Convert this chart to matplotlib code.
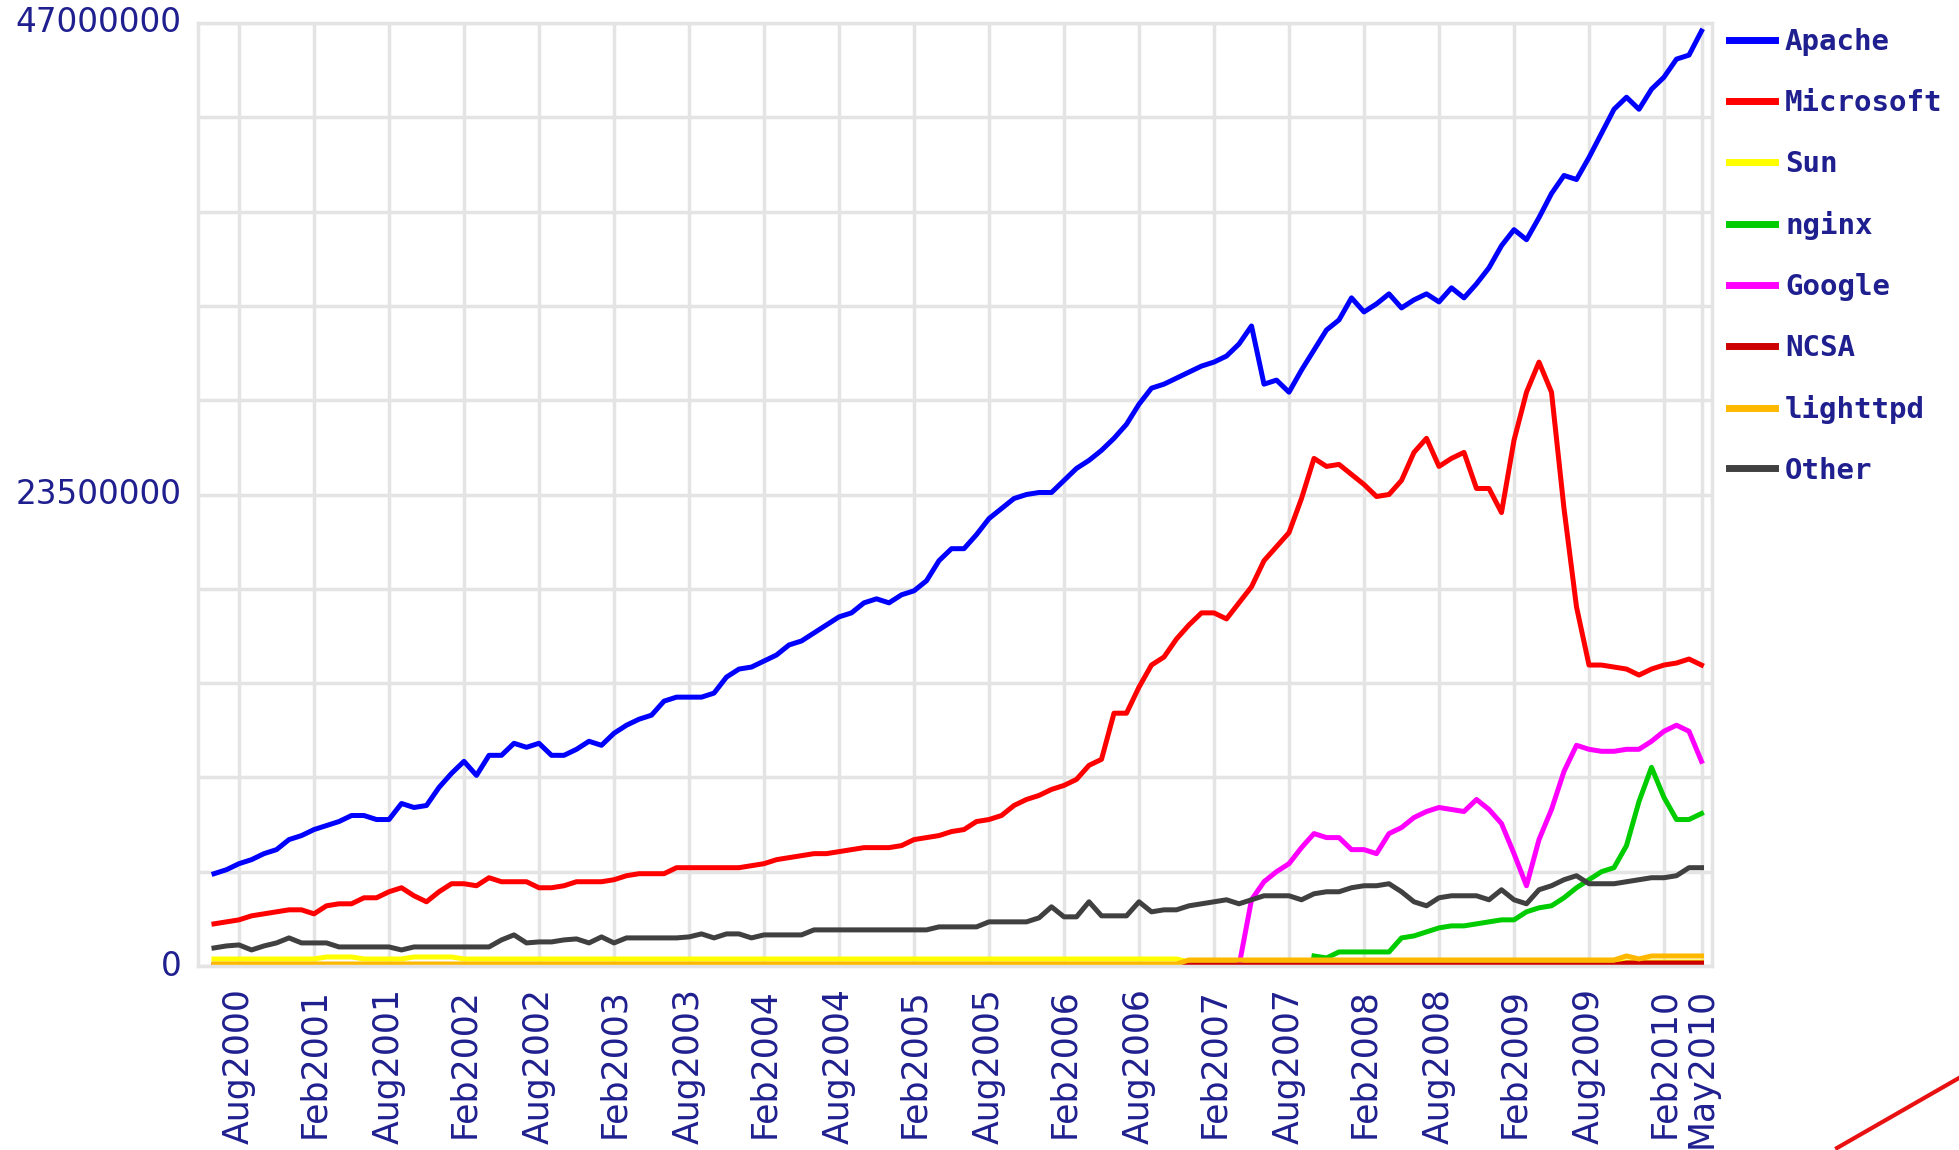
import numpy as np
import matplotlib
matplotlib.use("Agg")
import matplotlib.pyplot as plt
from matplotlib.lines import Line2D

nan = np.nan

# monthly server counts (millions), Jun2000 .. May2010, one row per 12 months
apache = [
    4.6, 4.8, 5.1, 5.3, 5.6, 5.8, 6.3, 6.5, 6.8, 7.0, 7.2, 7.5,
    7.5, 7.3, 7.3, 8.1, 7.9, 8.0, 8.9, 9.6, 10.2, 9.5, 10.5, 10.5,
    11.1, 10.9, 11.1, 10.5, 10.5, 10.8, 11.2, 11.0, 11.6, 12.0, 12.3, 12.5,
    13.2, 13.4, 13.4, 13.4, 13.6, 14.4, 14.8, 14.9, 15.2, 15.5, 16.0, 16.2,
    16.6, 17.0, 17.4, 17.6, 18.1, 18.3, 18.1, 18.5, 18.7, 19.2, 20.2, 20.8,
    20.8, 21.5, 22.3, 22.8, 23.3, 23.5, 23.6, 23.6, 24.2, 24.8, 25.2, 25.7,
    26.3, 27.0, 28.0, 28.8, 29.0, 29.3, 29.6, 29.9, 30.1, 30.4, 31.0, 31.9,
    29.0, 29.2, 28.6, 29.7, 30.7, 31.7, 32.2, 33.3, 32.6, 33.0, 33.5, 32.8,
    33.2, 33.5, 33.1, 33.8, 33.3, 34.0, 34.8, 35.9, 36.7, 36.2, 37.3, 38.5,
    39.4, 39.2, 40.3, 41.5, 42.7, 43.3, 42.7, 43.7, 44.3, 45.2, 45.4, 46.6,
]
microsoft = [
    2.1, 2.2, 2.3, 2.5, 2.6, 2.7, 2.8, 2.8, 2.6, 3.0, 3.1, 3.1,
    3.4, 3.4, 3.7, 3.9, 3.5, 3.2, 3.7, 4.1, 4.1, 4.0, 4.4, 4.2,
    4.2, 4.2, 3.9, 3.9, 4.0, 4.2, 4.2, 4.2, 4.3, 4.5, 4.6, 4.6,
    4.6, 4.9, 4.9, 4.9, 4.9, 4.9, 4.9, 5.0, 5.1, 5.3, 5.4, 5.5,
    5.6, 5.6, 5.7, 5.8, 5.9, 5.9, 5.9, 6.0, 6.3, 6.4, 6.5, 6.7,
    6.8, 7.2, 7.3, 7.5, 8.0, 8.3, 8.5, 8.8, 9.0, 9.3, 10.0, 10.3,
    12.6, 12.6, 13.9, 15.0, 15.4, 16.3, 17.0, 17.6, 17.6, 17.3, 18.1, 18.9,
    20.2, 20.9, 21.6, 23.3, 25.3, 24.9, 25.0, 24.5, 24.0, 23.4, 23.5, 24.2,
    25.6, 26.3, 24.9, 25.3, 25.6, 23.8, 23.8, 22.6, 26.2, 28.6, 30.1, 28.6,
    22.8, 17.9, 15.0, 15.0, 14.9, 14.8, 14.5, 14.8, 15.0, 15.1, 15.3, 15.0,
]
sun = [
    0.35, 0.35, 0.35, 0.35, 0.35, 0.35, 0.35, 0.35, 0.35, 0.45, 0.45, 0.45,
    0.35, 0.35, 0.35, 0.35, 0.45, 0.45, 0.45, 0.45, 0.35, 0.35, 0.35, 0.35,
    0.35, 0.35, 0.35, 0.35, 0.35, 0.35, 0.35, 0.35, 0.35, 0.35, 0.35, 0.35,
    0.35, 0.35, 0.35, 0.35, 0.35, 0.35, 0.35, 0.35, 0.35, 0.35, 0.35, 0.35,
    0.35, 0.35, 0.35, 0.35, 0.35, 0.35, 0.35, 0.35, 0.35, 0.35, 0.35, 0.35,
    0.35, 0.35, 0.35, 0.35, 0.35, 0.35, 0.35, 0.35, 0.35, 0.35, 0.35, 0.35,
    0.35, 0.35, 0.35, 0.35, 0.35, 0.35, 0.2, 0.2, 0.2, 0.2, 0.2, 0.2,
    0.2, 0.2, 0.2, 0.2, 0.2, 0.2, 0.2, 0.2, 0.2, 0.2, 0.2, 0.2,
    0.2, 0.2, 0.2, 0.2, 0.2, 0.2, 0.2, 0.2, 0.2, 0.2, 0.2, 0.2,
    0.2, 0.2, 0.2, 0.2, 0.2, 0.2, 0.2, 0.2, 0.2, 0.2, 0.2, 0.2,
]
nginx = [
    nan, nan, nan, nan, nan, nan, nan, nan, nan, nan, nan, nan,
    nan, nan, nan, nan, nan, nan, nan, nan, nan, nan, nan, nan,
    nan, nan, nan, nan, nan, nan, nan, nan, nan, nan, nan, nan,
    nan, nan, nan, nan, nan, nan, nan, nan, nan, nan, nan, nan,
    nan, nan, nan, nan, nan, nan, nan, nan, nan, nan, nan, nan,
    nan, nan, nan, nan, nan, nan, nan, nan, nan, nan, nan, nan,
    nan, nan, nan, nan, nan, nan, nan, nan, nan, nan, nan, nan,
    nan, nan, nan, nan, 0.5, 0.4, 0.7, 0.7, 0.7, 0.7, 0.7, 1.4,
    1.5, 1.7, 1.9, 2.0, 2.0, 2.1, 2.2, 2.3, 2.3, 2.7, 2.9, 3.0,
    3.4, 3.9, 4.3, 4.7, 4.9, 6.0, 8.2, 9.9, 8.4, 7.3, 7.3, 7.6,
]
google = [
    nan, nan, nan, nan, nan, nan, nan, nan, nan, nan, nan, nan,
    nan, nan, nan, nan, nan, nan, nan, nan, nan, nan, nan, nan,
    nan, nan, nan, nan, nan, nan, nan, nan, nan, nan, nan, nan,
    nan, nan, nan, nan, nan, nan, nan, nan, nan, nan, nan, nan,
    nan, nan, nan, nan, nan, nan, nan, nan, nan, nan, nan, nan,
    nan, nan, nan, nan, nan, nan, nan, nan, nan, nan, nan, nan,
    nan, nan, nan, nan, nan, nan, nan, nan, nan, nan, 0.0, 3.3,
    4.2, 4.7, 5.1, 5.9, 6.6, 6.4, 6.4, 5.8, 5.8, 5.6, 6.6, 6.9,
    7.4, 7.7, 7.9, 7.8, 7.7, 8.3, 7.8, 7.1, 5.6, 4.0, 6.3, 7.8,
    9.7, 11.0, 10.8, 10.7, 10.7, 10.8, 10.8, 11.2, 11.7, 12.0, 11.7, 10.2,
]
ncsa = [
    0.05, 0.05, 0.05, 0.05, 0.05, 0.05, 0.05, 0.05, 0.05, 0.05, 0.05, 0.05,
    0.05, 0.05, 0.05, 0.05, 0.05, 0.05, 0.05, 0.05, 0.05, 0.05, 0.05, 0.05,
    0.05, 0.05, 0.05, 0.05, 0.05, 0.05, 0.05, 0.05, 0.05, 0.05, 0.05, 0.05,
    0.05, 0.05, 0.05, 0.05, 0.05, 0.05, 0.05, 0.05, 0.05, 0.05, 0.05, 0.05,
    0.05, 0.05, 0.05, 0.05, 0.05, 0.05, 0.05, 0.05, 0.05, 0.05, 0.05, 0.05,
    0.05, 0.05, 0.05, 0.05, 0.05, 0.05, 0.05, 0.05, 0.05, 0.05, 0.05, 0.05,
    0.05, 0.05, 0.05, 0.05, 0.05, 0.05, 0.05, 0.05, 0.05, 0.05, 0.05, 0.05,
    0.05, 0.05, 0.05, 0.05, 0.05, 0.05, 0.05, 0.05, 0.05, 0.05, 0.05, 0.05,
    0.05, 0.05, 0.05, 0.05, 0.05, 0.05, 0.05, 0.05, 0.05, 0.05, 0.05, 0.05,
    0.05, 0.05, 0.05, 0.05, 0.05, 0.15, 0.15, 0.15, 0.15, 0.15, 0.15, 0.15,
]
lighttpd = [
    0.1, 0.1, 0.1, 0.1, 0.1, 0.1, 0.1, 0.1, 0.1, 0.1, 0.1, 0.1,
    0.1, 0.1, 0.1, 0.1, 0.1, 0.1, 0.1, 0.1, 0.1, 0.1, 0.1, 0.1,
    0.1, 0.1, 0.1, 0.1, 0.1, 0.1, 0.1, 0.1, 0.1, 0.1, 0.1, 0.1,
    0.1, 0.1, 0.1, 0.1, 0.1, 0.1, 0.1, 0.1, 0.1, 0.1, 0.1, 0.1,
    0.1, 0.1, 0.1, 0.1, 0.1, 0.1, 0.1, 0.1, 0.1, 0.1, 0.1, 0.1,
    0.1, 0.1, 0.1, 0.1, 0.1, 0.1, 0.1, 0.1, 0.1, 0.1, 0.1, 0.1,
    0.1, 0.1, 0.1, 0.1, 0.1, 0.1, 0.3, 0.3, 0.3, 0.3, 0.3, 0.3,
    0.3, 0.3, 0.3, 0.3, 0.3, 0.3, 0.3, 0.3, 0.3, 0.3, 0.3, 0.3,
    0.3, 0.3, 0.3, 0.3, 0.3, 0.3, 0.3, 0.3, 0.3, 0.3, 0.3, 0.3,
    0.3, 0.3, 0.3, 0.3, 0.3, 0.5, 0.35, 0.5, 0.5, 0.5, 0.5, 0.5,
]
other = [
    0.9, 1.0, 1.05, 0.8, 1.0, 1.15, 1.4, 1.15, 1.15, 1.15, 0.95, 0.95,
    0.95, 0.95, 0.95, 0.8, 0.95, 0.95, 0.95, 0.95, 0.95, 0.95, 0.95, 1.3,
    1.55, 1.15, 1.2, 1.2, 1.3, 1.35, 1.15, 1.45, 1.15, 1.4, 1.4, 1.4,
    1.4, 1.4, 1.45, 1.6, 1.4, 1.6, 1.6, 1.4, 1.55, 1.55, 1.55, 1.55,
    1.8, 1.8, 1.8, 1.8, 1.8, 1.8, 1.8, 1.8, 1.8, 1.8, 1.95, 1.95,
    1.95, 1.95, 2.2, 2.2, 2.2, 2.2, 2.4, 2.95, 2.45, 2.45, 3.2, 2.5,
    2.5, 2.5, 3.2, 2.7, 2.8, 2.8, 3.0, 3.1, 3.2, 3.3, 3.1, 3.3,
    3.5, 3.5, 3.5, 3.3, 3.6, 3.7, 3.7, 3.9, 4.0, 4.0, 4.1, 3.7,
    3.2, 3.0, 3.4, 3.5, 3.5, 3.5, 3.3, 3.8, 3.3, 3.1, 3.8, 4.0,
    4.3, 4.5, 4.1, 4.1, 4.1, 4.2, 4.3, 4.4, 4.4, 4.5, 4.9, 4.9,
]

series_names = ["Apache", "Microsoft", "Sun", "nginx", "Google", "NCSA", "lighttpd", "Other"]
series_values = [apache, microsoft, sun, nginx, google, ncsa, lighttpd, other]
series_colors = ["#0000ff", "#ff0000", "#ffff00", "#00cc00", "#ff00ff", "#cc0000", "#ffb800", "#404040"]

tick_labels = ["Aug2000", "Feb2001", "Aug2001", "Feb2002", "Aug2002", "Feb2003", "Aug2003",
               "Feb2004", "Aug2004", "Feb2005", "Aug2005", "Feb2006", "Aug2006", "Feb2007",
               "Aug2007", "Feb2008", "Aug2008", "Feb2009", "Aug2009", "Feb2010", "May2010"]
y_max = 47.0  # millions
y_labelled = [0.0, 23.5, 47.0]

month_no = {"Jan": 1, "Feb": 2, "Mar": 3, "Apr": 4, "May": 5, "Jun": 6,
            "Jul": 7, "Aug": 8, "Sep": 9, "Oct": 10, "Nov": 11, "Dec": 12}
# month index 0 = Jun2000
tick_pos = [(int(t[3:]) - 2000) * 12 + month_no[t[:3]] - 6 for t in tick_labels]

navy = "#1f1f8f"
grid_col = "#e4e4e4"

fig = plt.figure(figsize=(19.59, 11.5), dpi=100)
ax = fig.add_axes([198 / 1959, 1 - 966 / 1150, (1712 - 198) / 1959, (966 - 23) / 1150])

x = np.arange(len(apache))
for name, vals, col in zip(series_names, series_values, series_colors):
    ax.plot(x, vals, color=col, lw=3.6, label=name, solid_joinstyle="round")

ax.set_xlim(-1.28, 119.84)
ax.set_ylim(0, y_max)

ax.set_xticks(tick_pos)
ax.set_xticklabels(tick_labels, rotation=90, fontsize=25, color=navy, family="DejaVu Sans")
yt = np.linspace(0, y_max, 11)
ax.set_yticks(yt)
ax.set_yticklabels([str(int(round(v * 1e6))) if any(abs(v - l) < 1e-6 for l in y_labelled) else ""
                    for v in yt], fontsize=23.5, color=navy)
ax.tick_params(axis="x", length=0, pad=16)
ax.tick_params(axis="y", length=0, pad=12)
for lab in ax.get_yticklabels():
    lab.set_verticalalignment("center")

ax.grid(True, color=grid_col, lw=2.5)
ax.set_axisbelow(True)
for s in ax.spines.values():
    s.set_color(grid_col)
    s.set_linewidth(2.5)

handles = [Line2D([], [], color=c, lw=5) for c in series_colors]
fig.legend(handles, series_names, loc="upper left", bbox_to_anchor=(1729 / 1959, 1 - 28 / 1150),
           frameon=False, prop={"family": "DejaVu Sans Mono", "size": 21, "weight": "bold"},
           labelcolor=navy, handlelength=1.58, handletextpad=0.34, labelspacing=1.13,
           borderpad=0, borderaxespad=0)

# edge of the red stamp in the lower right corner
fig.add_artist(Line2D([1837 / 1959, 1.0], [2 / 1150, 72 / 1150], color="#e81010", lw=3,
                      transform=fig.transFigure))

fig.savefig("out.png", dpi=100, facecolor="white")
